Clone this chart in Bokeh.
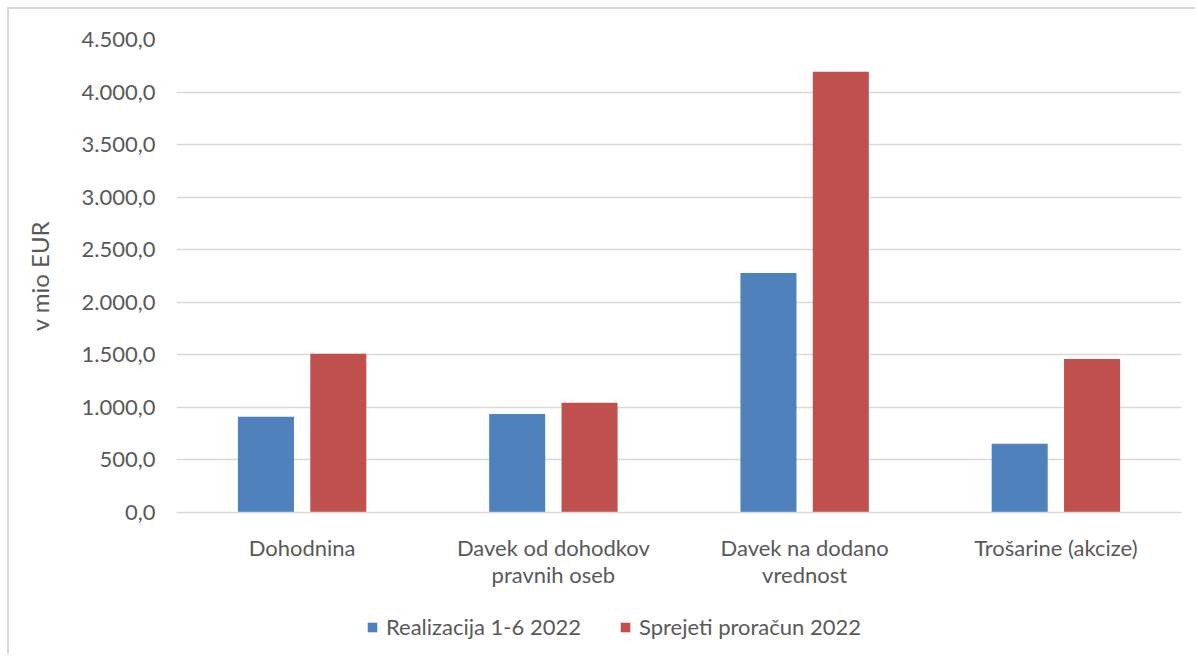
from bokeh.plotting import figure
from bokeh.layouts import column
from bokeh.models import ColumnDataSource, FactorRange, FixedTicker, Legend, LegendItem
from bokeh.transform import dodge
from bokeh.embed import file_html
from bokeh.resources import INLINE

categories = ["Dohodnina", "Davek od dohodkov\npravnih oseb", "Davek na dodano\nvrednost", "Trošarine (akcize)"]
realizacija = [911, 936, 2279, 654]
proracun = [1511, 1045, 4193, 1460]
series_names = ["Realizacija 1-6 2022", "Sprejeti proračun 2022"]
y_ticks = [0, 500, 1000, 1500, 2000, 2500, 3000, 3500, 4000, 4500]
y_tick_labels = ["0,0", "500,0", "1.000,0", "1.500,0", "2.000,0", "2.500,0", "3.000,0", "3.500,0", "4.000,0", "4.500,0"]

FONT = "Lato"
TXT = "#595959"
GRID = "#d9d9d9"
BLUE = "#4F81BD"
RED = "#C0504D"

source = ColumnDataSource(dict(cat=categories, r=realizacija, p=proracun))

p = figure(x_range=FactorRange(*categories), y_range=(0, 4500),
           width=1186, height=590, output_backend="svg", toolbar_location=None,
           min_border_left=167, min_border_right=14, min_border_top=30, min_border_bottom=87)
p.outline_line_color = None
p.x_range.range_padding = 0
p.x_range.factor_padding = 0

r1 = p.vbar(x=dodge("cat", -0.144, range=p.x_range), top="r", width=0.223, source=source,
            fill_color=BLUE, line_color=None)
r2 = p.vbar(x=dodge("cat", 0.144, range=p.x_range), top="p", width=0.223, source=source,
            fill_color=RED, line_color=None)

p.xgrid.grid_line_color = None
p.ygrid.grid_line_color = GRID
p.ygrid.grid_line_width = 1.5

p.yaxis.ticker = FixedTicker(ticks=y_ticks)
p.yaxis.major_label_overrides = {t: l for t, l in zip(y_ticks, y_tick_labels)}
p.yaxis.axis_line_color = None
p.yaxis.major_tick_line_color = None
p.yaxis.minor_tick_line_color = None
p.yaxis.major_label_standoff = 15
p.yaxis.major_label_text_font = FONT
p.yaxis.major_label_text_font_size = "22px"
p.yaxis.major_label_text_color = TXT
p.yaxis.axis_label = "v mio EUR"
p.yaxis.axis_label_text_font = FONT
p.yaxis.axis_label_text_font_size = "24px"
p.yaxis.axis_label_text_font_style = "normal"
p.yaxis.axis_label_text_color = TXT
p.yaxis.axis_label_standoff = 25

p.xaxis.axis_line_color = GRID
p.xaxis.axis_line_width = 1.5
p.xaxis.major_tick_line_color = None
p.xaxis.minor_tick_line_color = None
p.xaxis.major_label_standoff = 15
p.xaxis.major_label_text_font = FONT
p.xaxis.major_label_text_font_size = "22px"
p.xaxis.major_label_text_line_height = 1.0
p.xaxis.major_label_text_color = TXT

# legend in its own strip below the chart (swatch glyphs sit outside the visible range)
lg = figure(width=1186, height=55, output_backend="svg", toolbar_location=None,
            x_range=(0, 1), y_range=(0, 1), x_axis_location=None, y_axis_location=None,
            min_border=0)
lg.outline_line_color = None
lg.grid.grid_line_color = None
swatch = ColumnDataSource(dict(x=[-5], top=[-5]))
l1 = lg.vbar(x="x", top="top", width=0.1, source=swatch, fill_color=BLUE, line_color=None)
l2 = lg.vbar(x="x", top="top", width=0.1, source=swatch, fill_color=RED, line_color=None)

legend = Legend(items=[LegendItem(label=series_names[0], renderers=[l1]),
                       LegendItem(label=series_names[1], renderers=[l2])],
                orientation="horizontal", location=(190, 14))
legend.label_text_font = FONT
legend.label_text_font_size = "22px"
legend.label_text_color = TXT
legend.glyph_width = 12
legend.glyph_height = 12
legend.spacing = 38
legend.label_standoff = 8
legend.border_line_color = None
legend.background_fill_alpha = 0
legend.margin = 0
legend.padding = 0
lg.add_layout(legend, "center")

layout = column(p, lg, spacing=0)
layout.styles = {"margin-left": "7px", "margin-top": "7px",
                 "border-left": "2px solid #d9d9d9", "border-top": "2px solid #d9d9d9"}

open("out.html", "w").write(file_html(layout, INLINE))
